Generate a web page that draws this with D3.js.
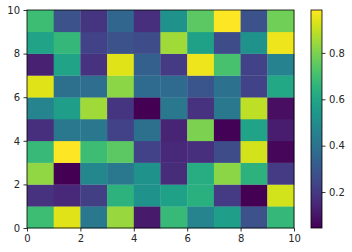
<!DOCTYPE html>
<html><head><meta charset="utf-8">
<script src="https://cdn.jsdelivr.net/npm/d3@7"></script>
<style>body{margin:0;background:#fff}svg{display:block}text{font-family:"DejaVu Sans";font-size:10px;fill:#262626}</style>
</head><body>
<script>
// rows from y=0 (bottom) to y=9 (top), columns x=0..9
const row0 = [0.69, 0.94, 0.42, 0.84, 0.11, 0.68, 0.47, 0.57, 0.28, 0.67];
const row1 = [0.18, 0.15, 0.22, 0.65, 0.52, 0.58, 0.64, 0.21, 0.045, 0.92];
const row2 = [0.83, 0.045, 0.48, 0.42, 0.52, 0.16, 0.63, 0.82, 0.65, 0.21];
const row3 = [0.68, 0.985, 0.69, 0.75, 0.23, 0.15, 0.17, 0.26, 0.92, 0.06];
const row4 = [0.17, 0.42, 0.42, 0.23, 0.39, 0.14, 0.80, 0.05, 0.59, 0.12];
const row5 = [0.47, 0.57, 0.85, 0.19, 0.045, 0.42, 0.18, 0.42, 0.89, 0.08];
const row6 = [0.94, 0.39, 0.38, 0.82, 0.37, 0.37, 0.29, 0.40, 0.23, 0.61];
const row7 = [0.13, 0.59, 0.18, 0.94, 0.33, 0.21, 0.96, 0.71, 0.23, 0.46];
const row8 = [0.59, 0.67, 0.23, 0.28, 0.26, 0.85, 0.58, 0.26, 0.52, 0.96];
const row9 = [0.69, 0.28, 0.19, 0.35, 0.17, 0.52, 0.75, 0.985, 0.28, 0.78];
const rows = [row0,row1,row2,row3,row4,row5,row6,row7,row8,row9];
const axisTicks = [0, 2, 4, 6, 8, 10];
const cbarTicks = [0.2, 0.4, 0.6, 0.8];

const W = 352, H = 252;
const L = 27, R = 294, T = 10, B = 228;
const svg = d3.select("body").append("svg").attr("width", W).attr("height", H);

const x = d3.scaleLinear().domain([0, 10]).range([L, R]);
const y = d3.scaleLinear().domain([0, 10]).range([B, T]);
const all = rows.flat();
const ext = d3.extent(all);
const color = d3.scaleSequential(d3.interpolateViridis).domain(ext);

const cells = [];
rows.forEach((r, j) => r.forEach((v, i) => cells.push({i, j, v})));
svg.append("g").selectAll("rect").data(cells).join("rect")
  .attr("x", d => x(d.i)).attr("y", d => y(d.j + 1))
  .attr("width", d => x(d.i + 1) - x(d.i) + 0.3)
  .attr("height", d => y(d.j) - y(d.j + 1) + 0.3)
  .attr("fill", d => color(d.v));

const xAxis = d3.axisBottom(x).tickValues(axisTicks).tickSize(3.5).tickPadding(3.5).tickFormat(d3.format("d"));
const yAxis = d3.axisLeft(y).tickValues(axisTicks).tickSize(3.5).tickPadding(3.5).tickFormat(d3.format("d"));
const gx = svg.append("g").attr("transform", `translate(0,${B})`).call(xAxis);
const gy = svg.append("g").attr("transform", `translate(${L},0)`).call(yAxis);
[gx, gy].forEach(g => {
  g.select(".domain").remove();
  g.selectAll("line").attr("stroke", "#000").attr("stroke-width", 0.8);
  g.selectAll("text").style("font-family", "DejaVu Sans").style("font-size", "10px").attr("fill", "#262626");
});
svg.append("rect").attr("x", L).attr("y", T).attr("width", R - L).attr("height", B - T)
  .attr("fill", "none").attr("stroke", "#000").attr("stroke-width", 0.8);

// colorbar
const cL = 311, cR = 322;
const cy = d3.scaleLinear().domain(ext).range([B, T]);
const defs = svg.append("defs");
const grad = defs.append("linearGradient").attr("id", "cb").attr("x1", 0).attr("y1", 1).attr("x2", 0).attr("y2", 0);
d3.range(0, 1.0001, 0.05).forEach(t => grad.append("stop").attr("offset", t).attr("stop-color", d3.interpolateViridis(t)));
svg.append("rect").attr("x", cL).attr("y", T).attr("width", cR - cL).attr("height", B - T)
  .attr("fill", "url(#cb)").attr("stroke", "#000").attr("stroke-width", 0.8);
const cAxis = d3.axisRight(cy).tickValues(cbarTicks).tickSize(3.5).tickPadding(3.5).tickFormat(d3.format(".1f"));
const gc = svg.append("g").attr("transform", `translate(${cR},0)`).call(cAxis);
gc.select(".domain").remove();
gc.selectAll("line").attr("stroke", "#000").attr("stroke-width", 0.8);
gc.selectAll("text").style("font-family", "DejaVu Sans").style("font-size", "10px").attr("fill", "#262626");
</script>
</body></html>
